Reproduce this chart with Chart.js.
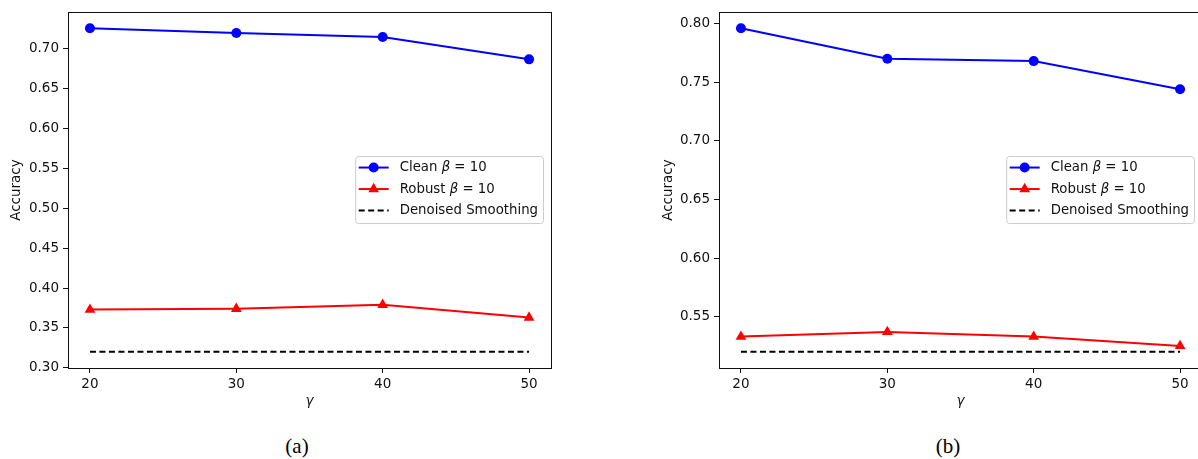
<!DOCTYPE html>
<html>
<head>
<meta charset="utf-8">
<script src="https://cdn.jsdelivr.net/npm/chart.js@4.4.1/dist/chart.umd.min.js"></script>
<style>
  html, body { margin: 0; padding: 0; background: #fff; overflow: hidden; width: 1198px; height: 459px; }
  .panel { position: absolute; top: 0; }
  .caption { position: absolute; font-family: "Liberation Serif", serif; font-size: 21px; color: #000; transform: translate(-50%, -50%); }
</style>
</head>
<body>
<canvas id="chartA" class="panel" width="600" height="420" style="left:0"></canvas>
<canvas id="chartB" class="panel" width="612" height="420" style="left:600px"></canvas>
<div class="caption" style="left:297px;top:446px">(a)</div>
<div class="caption" style="left:948px;top:446px">(b)</div>
<script>
const gammas = [20, 30, 40, 50];
const cleanA = [0.726, 0.720, 0.715, 0.687];
const robustA = [0.373, 0.374, 0.379, 0.363];
const denoisedA = [0.32, 0.32, 0.32, 0.32];
const cleanB = [0.796, 0.770, 0.768, 0.744];
const robustB = [0.533, 0.537, 0.533, 0.525];
const denoisedB = [0.52, 0.52, 0.52, 0.52];
const xTicks = [20, 30, 40, 50];
const yTicksA = [0.30, 0.35, 0.40, 0.45, 0.50, 0.55, 0.60, 0.65, 0.70];
const yTicksB = [0.55, 0.60, 0.65, 0.70, 0.75, 0.80];
const seriesLabels = ["Clean β = 10", "Robust β = 10", "Denoised Smoothing"];

const FONT = "'DejaVu Sans', sans-serif";
const FS = 13.5;
const LFS = 13.3;
const INK = "#111";

function points(ys) {
  return gammas.map((g, i) => ({ x: g, y: ys[i] }));
}

function drawMarker(ctx, style, x, y, color) {
  ctx.fillStyle = color;
  ctx.beginPath();
  if (style === "circle") {
    ctx.arc(x, y, 5, 0, Math.PI * 2);
  } else if (style === "triangle") {
    const r = 6.2;
    ctx.moveTo(x, y - r);
    ctx.lineTo(x + Math.sin(Math.PI / 3) * r, y + r / 2);
    ctx.lineTo(x - Math.sin(Math.PI / 3) * r, y + r / 2);
    ctx.closePath();
  }
  ctx.fill();
}

// text with an italic beta, like matplotlib mathtext
function drawLabel(ctx, text, x, y) {
  ctx.textBaseline = "middle";
  ctx.textAlign = "left";
  const parts = text.split("β");
  ctx.font = LFS + "px " + FONT;
  ctx.fillText(parts[0], x, y);
  let w = ctx.measureText(parts[0]).width;
  if (parts.length > 1) {
    ctx.font = "italic " + LFS + "px " + FONT;
    ctx.fillText("β", x + w, y);
    w += ctx.measureText("β").width;
    ctx.font = LFS + "px " + FONT;
    ctx.fillText(parts[1], x + w, y);
    w += ctx.measureText(parts[1]).width;
  }
  return w;
}

function measureLabel(ctx, text) {
  const parts = text.split("β");
  ctx.font = LFS + "px " + FONT;
  let w = ctx.measureText(parts.join("")).width;
  if (parts.length > 1) {
    ctx.font = "italic " + LFS + "px " + FONT;
    w += ctx.measureText("β").width;
  }
  return w;
}

const framePlugin = {
  id: "frame",
  afterDatasetsDraw(chart) {
    const { ctx, chartArea: a } = chart;
    const o = chart.options.plugins.frame;
    ctx.save();
    ctx.strokeStyle = INK;
    ctx.lineWidth = 1;
    ctx.strokeRect(Math.round(a.left) + 0.5, Math.round(a.top) + 0.5,
      Math.round(a.right - a.left), Math.round(a.bottom - a.top));

    // axis titles
    ctx.fillStyle = INK;
    ctx.font = FS + "px " + FONT;
    ctx.textAlign = "center";
    ctx.textBaseline = "middle";
    ctx.save();
    ctx.translate(o.yTitleX, (a.top + a.bottom) / 2);
    ctx.rotate(-Math.PI / 2);
    ctx.fillText("Accuracy", 0, 0);
    ctx.restore();
    ctx.font = "italic " + FS + "px " + FONT;
    ctx.fillText("γ", (a.left + a.right) / 2, 401);

    // legend, center right
    const rows = chart.data.datasets;
    let textW = 0;
    rows.forEach(d => { textW = Math.max(textW, measureLabel(ctx, d.label)); });
    const boxW = 44 + textW + 5.5;
    const boxH = 67;
    const x0 = a.right - 7.5 - boxW;
    const y0 = (a.top + a.bottom) / 2 - boxH / 2;
    ctx.fillStyle = "rgba(255,255,255,0.8)";
    ctx.strokeStyle = "#cccccc";
    ctx.lineWidth = 1;
    ctx.beginPath();
    ctx.roundRect(x0, y0, boxW, boxH, 3);
    ctx.fill();
    ctx.stroke();
    rows.forEach((d, i) => {
      const y = y0 + 11 + i * 21.5;
      ctx.strokeStyle = d.borderColor;
      ctx.lineWidth = d.borderWidth;
      ctx.setLineDash(d.borderDash || []);
      ctx.beginPath();
      ctx.moveTo(x0 + 3, y);
      ctx.lineTo(x0 + 33, y);
      ctx.stroke();
      ctx.setLineDash([]);
      if (d.pointRadius > 0) drawMarker(ctx, d.pointStyle, x0 + 18, y, d.borderColor);
      ctx.fillStyle = INK;
      drawLabel(ctx, d.label, x0 + 44, y);
    });
    ctx.restore();
  }
};

function makeChart(id, clean, robust, denoised, yTicks, yMin, yMax, xMax, yWidth, padRight, yTitleX) {
  const ctx = document.getElementById(id).getContext("2d");
  return new Chart(ctx, {
    type: "line",
    data: {
      datasets: [
        {
          label: seriesLabels[0],
          data: points(clean),
          borderColor: "#0000ff",
          backgroundColor: "#0000ff",
          borderWidth: 2,
          pointStyle: "circle",
          pointRadius: 5,
          pointBorderWidth: 0,
        },
        {
          label: seriesLabels[1],
          data: points(robust),
          borderColor: "#ff0000",
          backgroundColor: "#ff0000",
          borderWidth: 2,
          pointStyle: "triangle",
          pointRadius: 6.2,
          pointBorderWidth: 0,
        },
        {
          label: seriesLabels[2],
          data: points(denoised),
          borderColor: "#000000",
          borderWidth: 2,
          borderDash: [6, 3.5],
          pointRadius: 0,
        },
      ],
    },
    options: {
      responsive: false,
      animation: false,
      devicePixelRatio: 1,
      layout: { padding: { top: 9, right: padRight, left: 0, bottom: 0 } },
      plugins: {
        legend: { display: false },
        tooltip: { enabled: false },
        frame: { yTitleX: yTitleX },
      },
      scales: {
        x: {
          type: "linear",
          min: 18.5,
          max: xMax,
          afterFit: (s) => { s.height = 52; },
          afterBuildTicks: (s) => { s.ticks = xTicks.map(v => ({ value: v })); },
          grid: { drawOnChartArea: false, color: INK, tickLength: 5 },
          border: { display: false },
          ticks: { color: INK, padding: 3, maxRotation: 0, font: { family: FONT, size: FS } },
        },
        y: {
          min: yMin,
          max: yMax,
          afterFit: (s) => { s.width = yWidth; },
          afterBuildTicks: (s) => { s.ticks = yTicks.map(v => ({ value: v })); },
          grid: { drawOnChartArea: false, color: INK, tickLength: 5 },
          border: { display: false },
          ticks: {
            color: INK,
            padding: 4,
            font: { family: FONT, size: FS },
            callback: (v) => v.toFixed(2),
          },
        },
      },
    },
    plugins: [framePlugin],
  });
}

makeChart("chartA", cleanA, robustA, denoisedA, yTicksA, 0.2997, 0.7463, 51.5, 68, 49, 16.5);
makeChart("chartB", cleanB, robustB, denoisedB, yTicksB, 0.5062, 0.8098, 51.5, 119, 10, 668 - 600);
</script>
</body>
</html>
